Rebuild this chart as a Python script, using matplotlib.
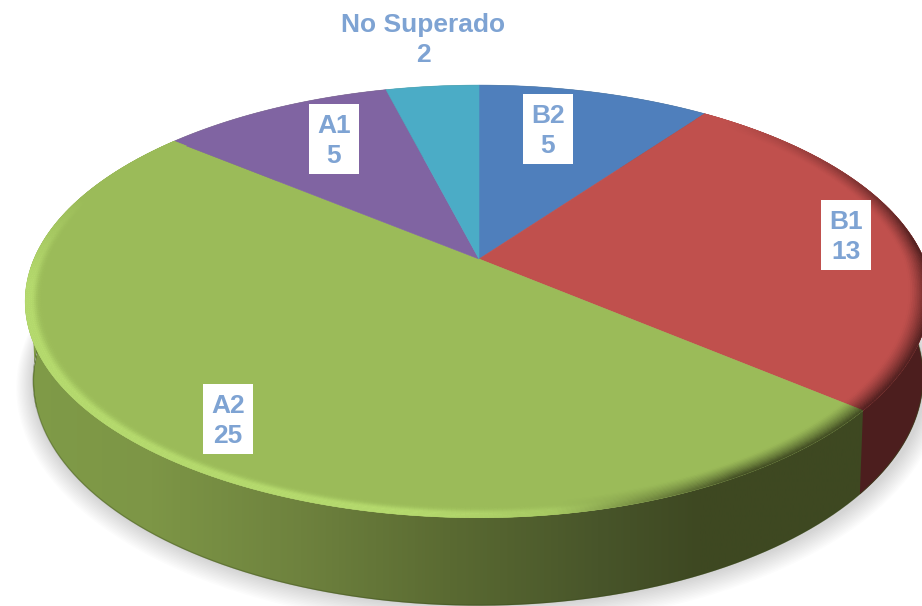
import matplotlib
matplotlib.use("Agg")
import matplotlib.pyplot as plt
import numpy as np
from matplotlib.collections import PolyCollection
from matplotlib.colors import LinearSegmentedColormap
from matplotlib.patches import Polygon, Rectangle

# data
categories = ["B2", "B1", "A2", "A1", "No Superado"]
values = [5, 13, 25, 5, 2]
slice_colors = ["#4F7FBC", "#C0504D", "#9BBB59", "#8064A2", "#4BACC6"]

W, H = 922, 606
CX = 479
TOP_Y, BOT_Y = 259, 337
TOP_A, BOT_A = 445, 437
TOP_B, BOT_B = 208, 216
K = 0.196
YAW = 16
DEPTH_COL = {"A2": (62, 72, 33), "B1": (76, 30, 30)}


def project(r, theta, y0=TOP_Y, a=TOP_A, b=TOP_B, yaw=YAW):
    # flat disc -> screen, with a bit of perspective
    x = r * np.cos(np.radians(theta))
    y = r * np.sin(np.radians(theta))
    d = 1 + K * y
    # lower right of the top face sits slightly further in
    shift = yaw * np.clip(x, 0, None) * np.clip(-y, 0, None)
    return np.column_stack([CX + a * x / d - shift, y0 - b * y / d])


def foot(theta, shift=0.0):
    return project(1, theta, BOT_Y + shift, BOT_A, BOT_B, 8)


def rgb(c):
    return np.array(matplotlib.colors.to_rgb(c))


def main():
    fig = plt.figure(figsize=(W / 100, H / 100), dpi=100)
    ax = fig.add_axes([0, 0, 1, 1])
    ax.axis("off")

    edges = 90 - 360 * np.concatenate([[0], np.cumsum(values)]) / np.sum(values)
    spans = dict(zip(categories, zip(edges[:-1], edges[1:])))

    # shadow under the disc
    full = np.linspace(0, 360, 361)
    for s in range(14, 0, -1):
        pts = project(1, full, BOT_Y + s * 0.3, BOT_A + s * 1.2, BOT_B + s, 0)
        ax.add_patch(Polygon(pts, fc="black", ec="none", alpha=0.012, zorder=1))

    # side walls, left end closed with a straight run from rim to foot
    a2_end = spans["A2"][1]
    wall = np.vstack([project(1, np.linspace(183, a2_end, 300)),
                      foot(np.linspace(a2_end, 198, 300))])
    wall_patch = Polygon(wall, fc="none", ec="none", zorder=2)
    ax.add_patch(wall_patch)
    stops_x = np.array([0, 150, 300, 450, 600, 700, 922]) / W
    stops_c = [(128, 156, 72), (125, 150, 70), (110, 130, 62), (90, 106, 50),
               (72, 85, 42), (62, 72, 34), (62, 72, 33)]
    cmap = LinearSegmentedColormap.from_list(
        "wall", [(x, tuple(np.array(c) / 255)) for x, c in zip(stops_x, stops_c)]
    )
    img = ax.imshow(np.linspace(0, 1, 400)[None, :], extent=(0, W, H, 0), cmap=cmap,
                    aspect="auto", zorder=2)
    img.set_clip_path(wall_patch)

    b1_start, b1_end = spans["B1"]
    th = np.linspace(b1_end, b1_start, 200)
    red = np.vstack([project(1, th), foot(th[::-1])])
    ax.add_patch(Polygon(red, fc=np.array(DEPTH_COL["B1"]) / 255, ec="none", zorder=2))

    # dark seam at the foot of the wall
    seam = foot(np.linspace(198, a2_end, 300), -0.5)
    ax.plot(seam[:, 0], seam[:, 1], color="#3a4a1c", lw=1.0, alpha=0.35, zorder=3)

    # top face
    for name, col in zip(categories, slice_colors):
        t1, t2 = spans[name]
        th = np.linspace(t1, t2, 200)
        pts = np.vstack([[[CX, TOP_Y]], project(1, th)])
        ax.add_patch(Polygon(pts, fc=col, ec=col, lw=0.4, zorder=4))

    # bevel on the rim, light on the lower left and dark on the right
    rings = np.linspace(0.955, 1.0, 13)
    hi = np.array([200, 240, 125]) / 255
    quads, cols = [], []
    for name, col in zip(categories, slice_colors):
        if name not in DEPTH_COL:
            continue
        t1, t2 = spans[name]
        base = rgb(col)
        depth = np.array(DEPTH_COL[name]) / 255
        ths = np.linspace(t1, t2, int((t1 - t2) * 2) + 2)
        for ta, tb in zip(ths[:-1], ths[1:]):
            tm = 0.5 * (ta + tb)
            light = np.cos(np.radians(tm - 225)) - 0.45
            m = (tm + 360) % 360
            right_side = m > 270 or m < 50
            fade = 1.0
            if 5 < m < 50:
                fade = (50 - m) / 45
            for r1, r2 in zip(rings[:-1], rings[1:]):
                rm = 0.5 * (r1 + r2)
                c = base
                if light > 0:
                    p = np.exp(-((min(rm, 0.988) - 0.988) / 0.012) ** 2) * min(light * 3, 1)
                    c = base + (hi - base) * 0.6 * p
                if right_side and light < 0.15:
                    p = ((rm - 0.955) / 0.045) ** 1.3 * np.clip((0.15 - light) * 3, 0, 1) * fade
                    c = c + (depth - c) * p
                quads.append(np.vstack([project(r1, np.array([ta, tb])),
                                        project(r2, np.array([tb, ta]))]))
                cols.append(c)
    ax.add_collection(PolyCollection(quads, facecolors=cols, edgecolors=cols, linewidths=0.3, zorder=5))

    # labels
    label_color = "#7EA3D3"
    font = dict(family="Liberation Sans", fontweight="bold", fontsize=19, color=label_color,
                ha="center", va="center", linespacing=1.36, zorder=7)
    boxed = {"B2": (548, 129), "B1": (846, 235), "A2": (228, 419), "A1": (334, 139)}
    for name, val in zip(categories, values):
        if name in boxed:
            x, y = boxed[name]
            ax.add_patch(Rectangle((x - 25, y - 35), 50, 70, fc="white", ec="none", zorder=6))
        else:
            x, y = 423, 38
        ax.text(x, y + 2, f"{name}\n{val}", **font)

    ax.set_xlim(0, W)
    ax.set_ylim(H, 0)
    fig.savefig("out.png", dpi=100, facecolor="white")


if __name__ == "__main__":
    main()
